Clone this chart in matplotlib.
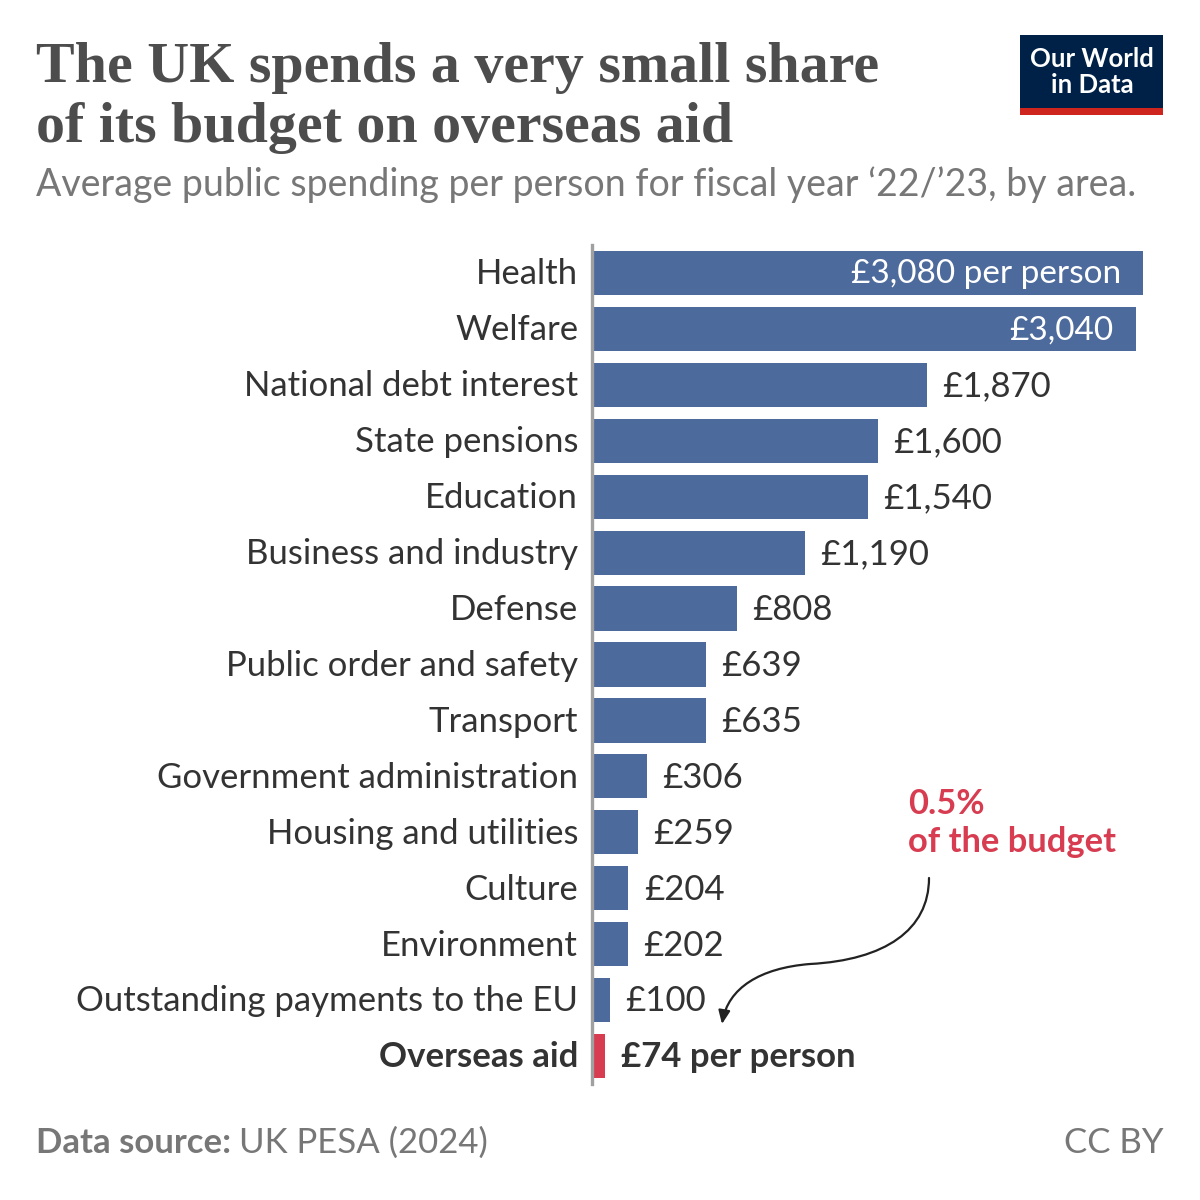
import matplotlib
matplotlib.use("Agg")
import matplotlib.pyplot as plt
from matplotlib.path import Path
from matplotlib.patches import FancyArrowPatch, Rectangle

# Data: average public spending per person, fiscal year 2022/23 (GBP)
categories = ["Health", "Welfare", "National debt interest", "State pensions",
              "Education", "Business and industry", "Defense",
              "Public order and safety", "Transport", "Government administration",
              "Housing and utilities", "Culture", "Environment",
              "Outstanding payments to the EU", "Overseas aid"]
values = [3080, 3040, 1870, 1600, 1540, 1190, 808, 639, 635, 306, 259, 204, 202, 100, 74]
value_labels = ["£3,080 per person", "£3,040", "£1,870", "£1,600", "£1,540", "£1,190",
                "£808", "£639", "£635", "£306", "£259", "£204", "£202", "£100",
                "£74 per person"]

BLUE = "#4c6a9c"
RED = "#d73c50"
DARK = "#333333"
GRAY = "#777777"

W = H = 1200
fig = plt.figure(figsize=(12, 12), dpi=100)
fig.patch.set_facecolor("white")


def fx(px):
    return px / W


def fy(py):
    return 1 - py / H


# bar area: x from 592 to 1143 px, rows from 245 to 1084 px
ax = fig.add_axes([fx(592), fy(1084), fx(1143) - fx(592), (1084 - 245) / H])
n = len(categories)
ypos = list(range(n))
colors = [BLUE] * (n - 1) + [RED]
ax.barh(ypos, values, height=0.79, color=colors)
ax.set_xlim(0, 3080)
ax.set_ylim(n - 0.5, -0.5)
ax.set_xticks([])
ax.set_yticks([])
for s in ["top", "right", "bottom"]:
    ax.spines[s].set_visible(False)
ax.spines["left"].set_color("#a0a0a0")
ax.spines["left"].set_linewidth(2.4)
ax.set_facecolor("none")

FS = 25
for i, (cat, v, lab) in enumerate(zip(categories, values, value_labels)):
    bold = (i == n - 1)
    weight = "bold" if bold else "normal"
    ax.annotate(cat, (0, i), xytext=(-10, -1), textcoords="offset points",
                ha="right", va="center", fontsize=FS, family="Lato",
                fontweight=weight, color=DARK, annotation_clip=False)
    if i < 2:
        ax.annotate(lab, (v, i), xytext=(-16, -1), textcoords="offset points",
                    ha="right", va="center", fontsize=24, family="Lato",
                    color="white")
    else:
        ax.annotate(lab, (v, i), xytext=(11, -1), textcoords="offset points",
                    ha="left", va="center", fontsize=FS, family="Lato",
                    fontweight=weight, color=DARK, annotation_clip=False)

# title and subtitle
fig.text(fx(36), fy(82), "The UK spends a very small share", fontsize=41.8,
         family="Liberation Serif", fontweight="bold", color="#4d4d4d", va="baseline")
fig.text(fx(36), fy(142), "of its budget on overseas aid", fontsize=41.8,
         family="Liberation Serif", fontweight="bold", color="#4d4d4d", va="baseline")
fig.text(fx(36), fy(196), "Average public spending per person for fiscal year ‘22/’23, by area.",
         fontsize=27, family="Lato", color=GRAY, va="baseline")

# logo
fig.patches.append(Rectangle((fx(1020), fy(108)), fx(143), 73 / H,
                             transform=fig.transFigure, facecolor="#002147",
                             edgecolor="none"))
fig.patches.append(Rectangle((fx(1020), fy(115)), fx(143), 7 / H,
                             transform=fig.transFigure, facecolor="#ce261e",
                             edgecolor="none"))
fig.text(fx(1092), fy(72), "Our World\nin Data", fontsize=18.5, family="Lato",
         fontweight="bold", color="white", ha="center", va="center",
         linespacing=1.08)

# annotation
fig.text(fx(908), fy(823), "0.5%\nof the budget", fontsize=24.8, family="Lato",
         fontweight="bold", color=RED, ha="left", va="center", linespacing=1.2)
pts = [(929, 878), (929, 930), (885, 960), (810, 964),
       (760, 968), (728, 988), (722, 1024)]
path = Path([(fx(x), fy(y)) for x, y in pts],
            [Path.MOVETO, Path.CURVE4, Path.CURVE4, Path.CURVE4,
             Path.CURVE4, Path.CURVE4, Path.CURVE4])
arrow = FancyArrowPatch(path=path, arrowstyle="-|>,head_length=8,head_width=3.5",
                        color="#222222", linewidth=1.6, transform=fig.transFigure)
fig.patches.append(arrow)

# footer
src = fig.text(fx(36), fy(1143), "Data source:", fontsize=25, family="Lato",
               fontweight="bold", color=GRAY, ha="left", va="center")
fig.canvas.draw()
bb = src.get_window_extent()
fig.text(bb.x1 / W + fx(8), fy(1143), "UK PESA (2024)", fontsize=25, family="Lato",
         color=GRAY, ha="left", va="center")
fig.text(fx(1163), fy(1143), "CC BY", fontsize=25, family="Lato", color=GRAY,
         ha="right", va="center")

fig.savefig("out.png", dpi=100)
